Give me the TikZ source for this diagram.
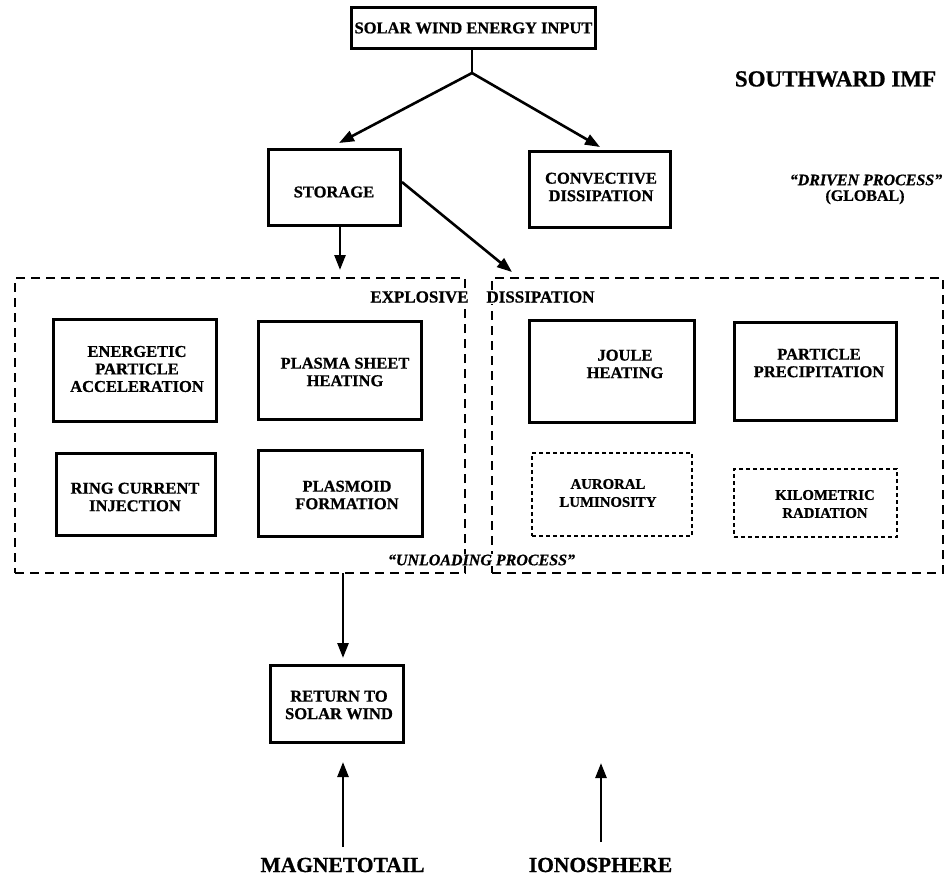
\documentclass[tikz,border=0pt]{standalone}
\usepackage{fontspec}
\setmainfont{Liberation Serif}[BoldFeatures={FakeBold=0.8},BoldItalicFeatures={FakeBold=0.8}]
\usetikzlibrary{arrows.meta}
\begin{document}
\begin{tikzpicture}[x=1pt,y=-1pt,
  box/.style={draw, line width=2.8pt, inner sep=0pt},
  dashbox/.style={draw, line width=2.3pt, dash pattern=on 9pt off 6pt, inner sep=0pt},
  dotbox/.style={draw, line width=2pt, dash pattern=on 4pt off 3pt, inner sep=0pt},
  txt/.style={font=\fontsize{16.5}{17.5}\selectfont\bfseries, align=center, inner sep=0pt},
  smalltxt/.style={font=\fontsize{14.8}{18}\selectfont\bfseries, align=center, inner sep=0pt},
  ittxt/.style={font=\fontsize{16}{16}\selectfont\bfseries\itshape, align=center, inner sep=0pt},
  bigtxt/.style={font=\fontsize{21.5}{22}\selectfont\bfseries, inner sep=0pt},
  arr/.style={line width=2.6pt, -{Triangle[length=15pt,width=11pt]}},
  ln/.style={line width=2.6pt}]
\useasboundingbox (0,0) rectangle (948,876);

% boxes
\node[box, minimum width=244, minimum height=41] (top) at (473.5,28) {};
\node[box, minimum width=132, minimum height=76] (storage) at (334.5,187.5) {};
\node[box, minimum width=141, minimum height=76] (conv) at (600,189.5) {};
\node[dashbox, minimum width=450, minimum height=295] (ldash) at (240,425.5) {};
\node[dashbox, minimum width=451, minimum height=295] (rdash) at (717.5,425.5) {};
\node[box, minimum width=163, minimum height=102] (energ) at (135,370.5) {};
\node[box, minimum width=163, minimum height=98] (psheet) at (340,370.5) {};
\node[box, minimum width=159, minimum height=82] (ring) at (136,494.5) {};
\node[box, minimum width=164, minimum height=86] (plasmoid) at (340.5,493.5) {};
\node[box, minimum width=165, minimum height=102] (joule) at (612,371.5) {};
\node[box, minimum width=162, minimum height=98] (partic) at (815.5,371.5) {};
\node[dotbox, minimum width=160, minimum height=83] (auroral) at (612,494.5) {};
\node[dotbox, minimum width=163, minimum height=68] (kilo) at (815.5,503) {};
\node[box, minimum width=133, minimum height=77] (ret) at (337,704) {};

% texts
\node[txt] (ttop) at (473.5,28) {SOLAR WIND ENERGY INPUT};
\node[txt] (tstorage) at (334,192) {STORAGE};
\node[txt] (tconv) at (601,187) {CONVECTIVE\\DISSIPATION};
\node[txt] (tenerg) at (137,369) {ENERGETIC\\PARTICLE\\ACCELERATION};
\node[txt] (tpsheet) at (345,372) {PLASMA SHEET\\HEATING};
\node[txt] (tring) at (135,497) {RING CURRENT\\INJECTION};
\node[txt] (tplasmoid) at (347,495) {PLASMOID\\FORMATION};
\node[txt] (tjoule) at (625,364) {JOULE\\HEATING};
\node[txt] (tpartic) at (819,363) {PARTICLE\\PRECIPITATION};
\node[smalltxt] (tauroral) at (608,493) {AURORAL\\LUMINOSITY};
\node[smalltxt] (tkilo) at (825,504) {KILOMETRIC\\RADIATION};
\node[txt] (tret) at (339,705) {RETURN TO\\SOLAR WIND};
\node[font=\fontsize{23}{24}\selectfont\bfseries, inner sep=0pt] (imf) at (835.5,79) {SOUTHWARD IMF};
\node[ittxt] (driven) at (866,180) {``DRIVEN PROCESS''};
\node[font=\fontsize{16}{16}\selectfont\bfseries, inner sep=0pt] (global) at (865,197) {(GLOBAL)};
\node[font=\fontsize{17}{17}\selectfont\bfseries, inner sep=1pt, fill=white] (expl) at (419.5,297) {EXPLOSIVE};
\node[font=\fontsize{17}{17}\selectfont\bfseries, inner sep=1pt, fill=white] (diss) at (540.5,297) {DISSIPATION};
\node[ittxt, inner sep=1pt, fill=white] (unload) at (481.5,560) {``UNLOADING PROCESS''};
\node[bigtxt] (mtail) at (342.5,865) {MAGNETOTAIL};
\node[bigtxt] (iono) at (600.5,865) {IONOSPHERE};

% connectors
\coordinate (j) at (472,73);
\coordinate (jl) at (339,143);
\coordinate (jr) at (600,147);
\draw[ln] (top.south -| j) -- (j);
\draw[arr] (j) -- (jl);
\draw[arr] (j) -- (jr);
\coordinate (sd) at (340,227);
\coordinate (sdt) at (340,270);
\draw[arr] (sd) -- (sdt);
\coordinate (dg) at (512,272);
\draw[arr] ([yshift=5.5pt]storage.east) -- (dg);
\coordinate (lb) at (343,573);
\coordinate (lbt) at (343,658);
\draw[arr] (lb) -- (lbt);
\coordinate (mt) at (343,847);
\coordinate (mtt) at (343,762);
\draw[arr] (mt) -- (mtt);
\coordinate (io) at (601,842);
\coordinate (iot) at (601,763);
\draw[arr] (io) -- (iot);
\end{tikzpicture}
\end{document}
